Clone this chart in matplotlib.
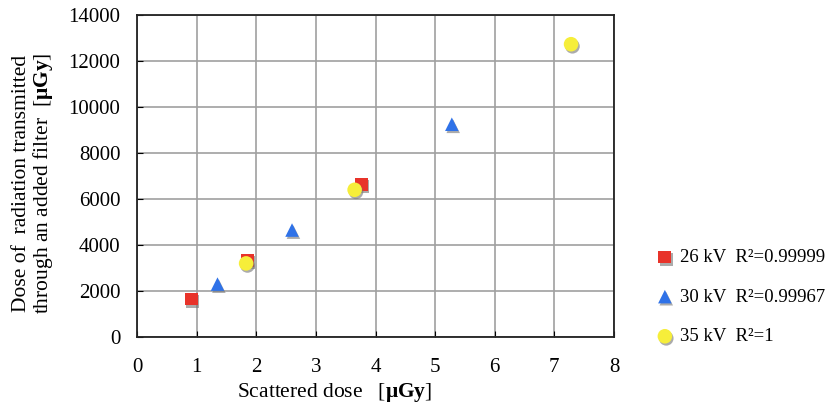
import numpy as np
import matplotlib.pyplot as plt
import matplotlib.patheffects as pe

plt.rcParams['font.family'] = ['Liberation Serif', 'DejaVu Serif']
plt.rcParams['mathtext.fontset'] = 'custom'
plt.rcParams['mathtext.rm'] = 'Liberation Serif'
plt.rcParams['mathtext.bf'] = 'Liberation Serif:bold'

# data
x_26 = [0.91, 1.85, 3.76]
y_26 = [1650, 3330, 6640]
x_30 = [1.35, 2.60, 5.28]
y_30 = [2300, 4650, 9250]
x_35 = [1.83, 3.65, 7.28]
y_35 = [3200, 6400, 12730]
labels = ['26 kV  R²=0.99999', '30 kV  R²=0.99967', '35 kV  R²=1']

fig = plt.figure(figsize=(8.32, 4.09), dpi=100)
ax = fig.add_axes([137/832, 1 - 337/409, (614-137)/832, (337-15)/409])

shadow = [pe.SimplePatchShadow(offset=(1, -1.5), shadow_rgbFace='0.45', alpha=0.6), pe.Normal()]
h1 = ax.scatter(x_26, y_26, marker='s', s=85, color='#e8332a', zorder=3, path_effects=shadow, linewidths=0)
h2 = ax.scatter(x_30, y_30, marker='^', s=95, color='#2f72e8', zorder=3, path_effects=shadow, linewidths=0)
h3 = ax.scatter(x_35, y_35, marker='o', s=110, color='#f6ee3a', zorder=4, path_effects=shadow, linewidths=0)

ax.set_xlim(0, 8)
ax.set_ylim(0, 14000)
ax.set_xticks(np.arange(0, 9, 1))
ax.set_yticks(np.arange(0, 14001, 2000))
ax.grid(True, color='#a0a0a0', linewidth=1.2)
ax.set_axisbelow(True)
ax.tick_params(direction='in', length=4, labelsize=15, color='black')
ax.tick_params(axis='x', pad=15)
ax.tick_params(axis='y', pad=12)
for s in ax.spines.values():
    s.set_linewidth(1.3)
    s.set_color('#222222')

fig.text(335/832, 1 - 393/409, r'Scattered dose   [$\mathbf{μGy}$]', fontsize=15.5,
         ha='center', va='center')
fig.text(34/832, 1 - 183/409,
         'Dose of  radiation transmitted\nthrough an added filter  [$\\mathbf{μGy}$]',
         fontsize=15.5, rotation=90, ha='center', va='center', linespacing=1.0)

fig.legend([h1, h2, h3], labels, loc='center left', bbox_to_anchor=(648/832, 1 - 297/409),
           frameon=False, fontsize=13.5, labelspacing=1.2, handletextpad=0.3,
           handlelength=1.0, borderaxespad=0)

fig.savefig('out.png', dpi=100)
